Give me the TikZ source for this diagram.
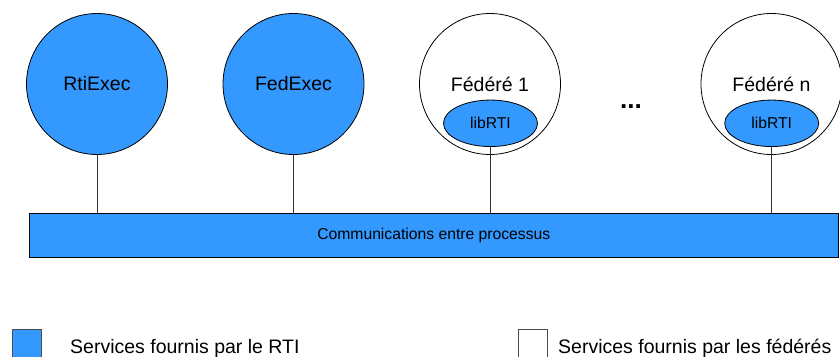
\documentclass[tikz,border=0pt]{standalone}
\usepackage{fontspec}
\setmainfont{Liberation Sans}
\usetikzlibrary{shapes.geometric}
\definecolor{rtiblue}{RGB}{51,153,255}
\tikzset{
  big/.style={font=\fontsize{19.5}{23}\selectfont},
  small/.style={font=\fontsize{15.7}{18}\selectfont},
  proc/.style={circle, draw=black, line width=0.8pt, minimum size=141pt, inner sep=0pt, big},
  rtiproc/.style={proc, fill=rtiblue},
  fedproc/.style={proc, fill=white},
  lib/.style={ellipse, draw=black, line width=0.8pt, fill=rtiblue, minimum width=94pt, minimum height=46.5pt, inner sep=0pt, small},
  link/.style={draw=black!80, line width=0.8pt},
  legbox/.style={rectangle, draw=black!70, line width=0.6pt, minimum width=29pt, minimum height=29pt, inner sep=0pt},
  legtext/.style={big, anchor=base west, inner sep=0pt}
}
\begin{document}
\begin{tikzpicture}[x=1pt,y=-1pt]
\useasboundingbox (0,0) rectangle (840,356);
\node[rtiproc] (rti) at (97,84) {RtiExec};
\node[rtiproc] (fed) at (293.5,84) {FedExec};
\node[fedproc] (f1) at (490,84) {};
\node[big] (f1t) at (490,84) {Fédéré 1};
\node[lib] (l1) at (490.5,123.3) {libRTI};
\node[fedproc] (fn) at (771.5,84) {};
\node[big] (fnt) at (771.5,84) {Fédéré n};
\node[lib] (ln) at (771.7,123.3) {libRTI};
\node[font=\bfseries\fontsize{26}{30}\selectfont, anchor=base, inner sep=0pt] (dots) at (631,108.5) {...};
\node[rectangle, draw=black, line width=0.8pt, fill=rtiblue, minimum width=809pt, minimum height=44pt, inner sep=0pt, small] (bar) at (433.8,235.3) {Communications entre processus};
\draw[link] (rti.south) -- (rti.south |- bar.north);
\draw[link] (fed.south) -- (fed.south |- bar.north);
\draw[link] (l1.south) -- (l1.south |- bar.north);
\draw[link] (ln.south) -- (ln.south |- bar.north);
\node[legbox, fill=rtiblue] (k1) at (26.5,343.5) {};
\node[legtext] (k1t) at (70,353) {Services fournis par le RTI};
\node[legbox, fill=white] (k2) at (532.5,343.5) {};
\node[legtext] (k2t) at (558,353) {Services fournis par les fédérés};
\end{tikzpicture}
\end{document}
